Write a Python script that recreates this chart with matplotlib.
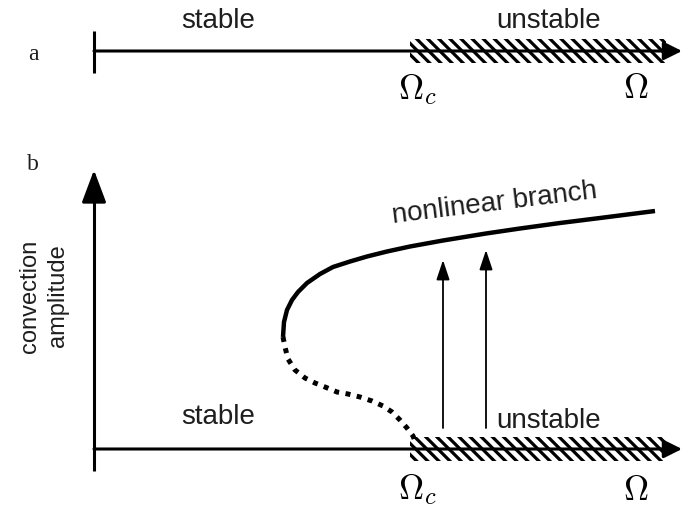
import matplotlib
matplotlib.use("Agg")
import matplotlib.pyplot as plt
import matplotlib.patches as patches
import numpy as np

# schematic units (same scale as the picture, y grows downward)
omega_start = 94.0
omega_c = 410.0
omega_end = 682.0
unstable_end = 666.0

axis_a_y = 51.0
axis_b_y = 449.0
amp_top = 170.0
amp_bottom = 471.0

# nonlinear branch, stable (solid) part
branch_x = [655, 600, 560, 520, 486, 443, 410, 387, 367, 350, 333, 320, 307, 298, 292, 287, 284, 283]
branch_y = [211, 218, 223, 228.5, 233.5, 240.5, 246.5, 251.5, 256.5, 261.5, 267, 274, 283, 292, 300, 310, 322, 337]

# unstable (dotted) part of the branch
unst_x = [283, 285, 288, 295, 305, 315, 325, 337, 348, 360, 372, 383, 392, 400, 407, 413, 415]
unst_y = [337, 347, 359, 370, 378, 383, 387, 392, 394, 397, 401, 406, 412, 420, 428, 436, 441]

# jump arrows (x position, tip)
jump_x = [443, 486]
jump_tip = [260, 250]
jump_base = 428

plt.rcParams['font.family'] = ['Liberation Sans', 'DejaVu Sans']
plt.rcParams['mathtext.fontset'] = 'cm'
plt.rcParams['hatch.linewidth'] = 2.3

fig = plt.figure(figsize=(6.82, 5.08), dpi=100)
ax = fig.add_axes([0, 0, 1, 1])
ax.set_xlim(0, 682)
ax.set_ylim(508, 0)
ax.axis('off')

lw = 2.2
txt = '#1e1e1e'

for y0 in [axis_a_y, axis_b_y]:
    # hatched unstable band
    band = patches.Rectangle((omega_c, y0 - 12), unstable_end - omega_c, 24,
                             hatch='\\\\\\', fill=False, edgecolor='k', linewidth=0)
    ax.add_patch(band)
    ax.annotate('', xy=(omega_end, y0), xytext=(omega_start, y0),
                arrowprops=dict(arrowstyle='-|>,head_length=0.5,head_width=0.25',
                                mutation_scale=22, lw=lw, color='k',
                                shrinkA=0, shrinkB=0))

# panel a tick
ax.plot([omega_start, omega_start], [31, 73], color='k', lw=lw, solid_capstyle='butt')

# panel b vertical axis
ax.plot([omega_start, omega_start], [amp_bottom, 190], color='k', lw=lw, solid_capstyle='butt')
ax.annotate('', xy=(omega_start, amp_top), xytext=(omega_start, 200),
            arrowprops=dict(arrowstyle='-|>,head_length=0.8,head_width=0.3',
                            mutation_scale=25, lw=lw, color='k',
                            shrinkA=0, shrinkB=0))

# branch
ax.plot(branch_x, branch_y, color='k', lw=3.2, solid_capstyle='butt', solid_joinstyle='round')
ax.plot(unst_x, unst_y, color='k', lw=3.6, linestyle=(0, (1.0, 1.3)), dash_capstyle='butt')

for xj, tj in zip(jump_x, jump_tip):
    ax.annotate('', xy=(xj, tj), xytext=(xj, jump_base),
                arrowprops=dict(arrowstyle='-|>,head_length=0.6,head_width=0.2',
                                mutation_scale=20, lw=1.3, color='k',
                                shrinkA=0, shrinkB=0))

# texts
ax.text(218, 28, 'stable', fontsize=20, color=txt, ha='center', va='baseline')
ax.text(549, 28, 'unstable', fontsize=20, color=txt, ha='center', va='baseline')
ax.text(218, 424, 'stable', fontsize=20, color=txt, ha='center', va='baseline')
ax.text(549, 428, 'unstable', fontsize=20, color=txt, ha='center', va='baseline')
ax.text(393, 223, 'nonlinear branch', fontsize=20, color=txt, rotation=7,
        rotation_mode='anchor', ha='left', va='baseline')

ax.text(398, 90, r'$\Omega_c$', fontsize=25, color='k', ha='left', va='center')
ax.text(636, 88, r'$\Omega$', fontsize=25, color='k', ha='center', va='center')
ax.text(398, 490, r'$\Omega_c$', fontsize=25, color='k', ha='left', va='center')
ax.text(636, 490, r'$\Omega$', fontsize=25, color='k', ha='center', va='center')

ax.text(33, 54, 'a', fontsize=17, family='Liberation Serif', color=txt, ha='center', va='center')
ax.text(33, 165, 'b', fontsize=17, family='Liberation Serif', color=txt, ha='center', va='center')

ax.text(44, 296, 'convection\namplitude', fontsize=17, color=txt, rotation=90,
        ha='center', va='center', linespacing=1.3)

fig.savefig('out.png', dpi=100)
